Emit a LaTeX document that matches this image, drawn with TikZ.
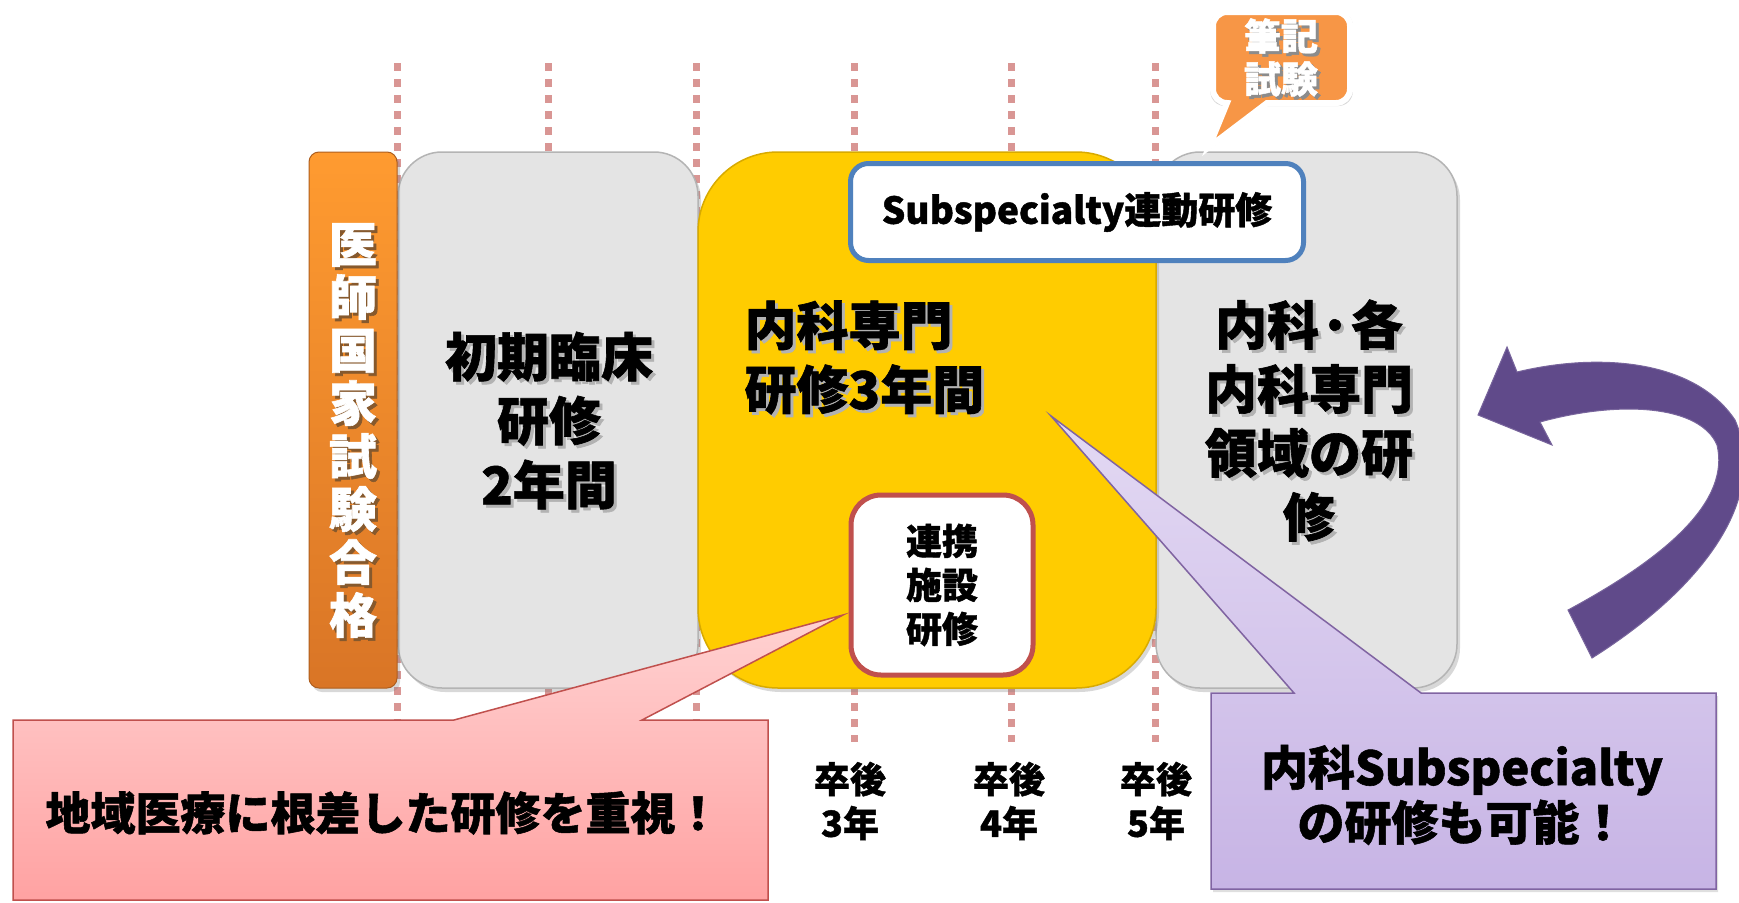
\documentclass[tikz,border=0pt]{standalone}
\usepackage{fontspec}
\setmainfont{Noto Sans CJK JP}[BoldFeatures={FakeBold=1.2}]
\usetikzlibrary{shadows}
\definecolor{tickc}{HTML}{D99694}
\definecolor{boxgray}{HTML}{E4E4E4}
\definecolor{boxedge}{HTML}{B4B4B4}
\definecolor{yel}{HTML}{FFCC00}
\definecolor{yeledge}{HTML}{D8AA00}
\definecolor{orgtop}{HTML}{FF9B30}
\definecolor{orgbot}{HTML}{D97526}
\definecolor{blueedge}{HTML}{4F81BD}
\definecolor{rededge}{HTML}{C0504D}
\definecolor{pinktop}{HTML}{FFD2D2}
\definecolor{pinkbot}{HTML}{FFA2A2}
\definecolor{purtop}{HTML}{E3D9F3}
\definecolor{purbot}{HTML}{C7B4E5}
\definecolor{puredge}{HTML}{8064A2}
\definecolor{arrowc}{HTML}{604A8A}
\definecolor{bubblec}{HTML}{F79646}
\newcommand\shd[2][black!30]{\leavevmode\rlap{\hspace{3pt}\raisebox{-3pt}{\textcolor{#1}{#2}}}#2}
\begin{document}
\begin{tikzpicture}[x=1pt,y=-1pt,
  tick/.style={draw=tickc,line width=7pt,dash pattern=on 8pt off 8pt},
  boxshadow/.style={drop shadow={shadow xshift=3pt,shadow yshift=-4pt,opacity=.3}},
  graybox/.style={rectangle,rounded corners=44pt,fill=boxgray,draw=boxedge,line width=1.5pt,boxshadow,inner sep=0pt,minimum height=536pt},
  big/.style={font=\bfseries\fontsize{52}{64}\selectfont,align=center,text=black},
  mid/.style={font=\bfseries\fontsize{36}{44}\selectfont,align=center,text=black},
  callt/.style={font=\bfseries\fontsize{47}{55}\selectfont,align=center,text=black}]
\useasboundingbox (0,0) rectangle (1739,902);
\fill[white] (0,0) rectangle (1739,902);

% dotted year lines
\foreach \i/\x in {1/397,2/548,3/696,4/854,5/1011,6/1155}{
  \coordinate (t\i) at (\x,63);
  \coordinate (b\i) at (\x,742);
  \draw[tick] (t\i) -- (b\i);
}

% boxes
\node[graybox,minimum width=300pt] (gray1) at (548,420) {};
\node[graybox,minimum width=301pt] (gray2) at (1306.5,420) {};
\node[rectangle,rounded corners=80pt,fill=yel,draw=yeledge,line width=1.5pt,boxshadow,
      minimum width=458pt,minimum height=536pt,inner sep=0pt] (yellow) at (927,420) {};
\node[rectangle,rounded corners=10pt,top color=orgtop,bottom color=orgbot,draw=orgbot!80!black,
      line width=1pt,boxshadow,minimum width=88pt,minimum height=536pt,inner sep=0pt] (bar) at (353,420) {};

% texts in boxes
\node[font=\bfseries\fontsize{48}{53}\selectfont,text=white,align=center] (bartext) at (353,432)
  {\shd[brown!70!black]{医}\\\shd[brown!70!black]{師}\\\shd[brown!70!black]{国}\\\shd[brown!70!black]{家}\\\shd[brown!70!black]{試}\\\shd[brown!70!black]{験}\\\shd[brown!70!black]{合}\\\shd[brown!70!black]{格}};
\node[big] (g1text) at (549,422) {\shd{初期臨床}\\\shd{研修}\\\shd{2年間}};
\node[big,align=left,anchor=west] (ytext) at (741,359) {\shd{内科専門}\\\shd{研修3年間}};
\node[big] (g2text) at (1309,422) {\shd{内科·各}\\\shd{内科専門}\\\shd{領域の研}\\\shd{修}};

% Subspecialty box
\node[rectangle,rounded corners=18pt,fill=white,draw=blueedge,line width=5pt,
      minimum width=453pt,minimum height=97pt,inner sep=0pt,
      font=\bfseries\fontsize{37}{44}\selectfont] (subsp) at (1077,212) {Subspecialty連動研修};

% renkei box
\node[rectangle,rounded corners=30pt,fill=white,draw=rededge,line width=5pt,
      minimum width=182pt,minimum height=180pt,inner sep=0pt,mid] (renkei) at (942,585) {連携\\施設\\研修};

% year labels
\node[mid] (y3) at (850,801) {卒後\\3年};
\node[mid] (y4) at (1009,801) {卒後\\4年};
\node[mid] (y5) at (1156,801) {卒後\\5年};

% written exam bubble
\draw[draw=white,line width=6pt,fill=bubblec,
      drop shadow={shadow xshift=0pt,shadow yshift=-2pt,opacity=.3,shadow scale=1.04}]
  (1213,12) [rounded corners=14pt] -- (1350,12) -- (1350,103) [sharp corners] -- (1267,103) -- (1209,147) -- (1227,103)
  [rounded corners=14pt] -- (1213,103) -- cycle;
\node[font=\bfseries\fontsize{37}{43}\selectfont,text=white,align=center] (exam) at (1281,59)
  {\shd[black!45]{筆記}\\\shd[black!45]{試験}};

% pink callout
\coordinate (ptip) at (843,615);
\path[top color=pinktop,bottom color=pinkbot,draw=rededge,line width=1.5pt]
  (13,720) -- (454,720) -- (ptip) -- (642,720) -- (768,720) -- (768,900) -- (13,900) -- cycle;
\node[font=\bfseries\fontsize{45}{52}\selectfont,text=black] (pinktext) at (383,813) {地域医療に根差した研修を重視！};

% purple callout
\coordinate (qtip) at (1051,416);
\path[top color=purtop,bottom color=purbot,draw=puredge,line width=1.5pt,
      drop shadow={shadow xshift=2pt,shadow yshift=-3pt,opacity=.25}]
  (1211,693) -- (1294,693) -- (qtip) -- (1421,693) -- (1716,693) -- (1716,889) -- (1211,889) -- cycle;
\node[callt] (purtext) at (1462,795) {内科Subspecialty\\の研修も可能！};

% curved purple arrow
\fill[arrowc,draw=arrowc!85!white,line width=1pt]
  (1478,415) -- (1507,347) -- (1517,372)
  .. controls (1600,352) and (1695,360) .. (1735,420)
  .. controls (1770,500) and (1700,590) .. (1592,658)
  -- (1568,610)
  .. controls (1670,555) and (1730,500) .. (1717,445)
  .. controls (1700,405) and (1620,400) .. (1540,422)
  -- (1552,445) -- cycle;
\end{tikzpicture}
\end{document}
